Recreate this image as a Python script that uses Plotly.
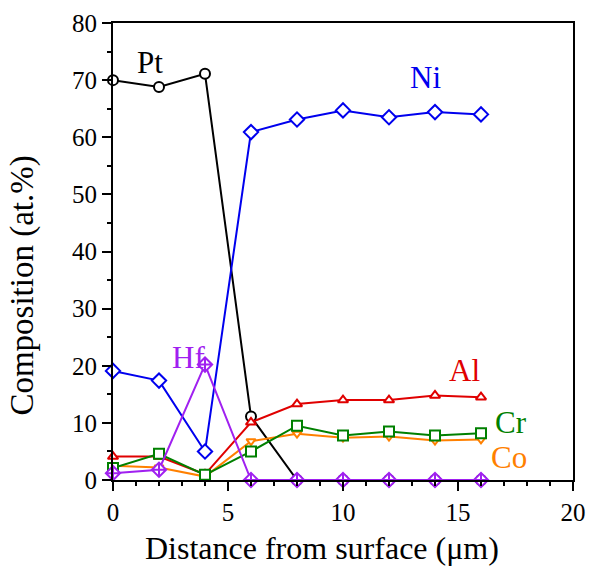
import plotly.graph_objects as go

distance = [0, 2, 4, 6, 8, 10, 12, 14, 16]
pt = [70.0, 68.8, 71.1, 11.1, 0, 0, 0, 0, 0]
ni = [19.1, 17.4, 5.0, 60.9, 63.1, 64.7, 63.5, 64.4, 64.0]
al = [4.1, 4.1, 1.0, 10.1, 13.3, 14.0, 14.0, 14.8, 14.5]
co = [2.5, 2.2, 0.6, 6.8, 8.1, 7.4, 7.6, 6.9, 7.1]
cr = [2.1, 4.6, 0.9, 5.0, 9.5, 7.8, 8.5, 7.8, 8.2]
hf = [1.2, 1.8, 20.2, 0, 0, 0, 0, 0, 0]

series = [
    ("Pt", pt, "black", "circle", 10),
    ("Ni", ni, "#0000EE", "diamond", 11),
    ("Co", co, "#FF8000", "triangle-down", 8),
    ("Al", al, "#E00000", "triangle-up", 9),
    ("Cr", cr, "#008000", "square", 10),
    ("Hf", hf, "#A020F0", "diamond-cross", 11),
]

labels = [
    ("Pt", 1.6, 73.0, "black"),
    ("Ni", 13.6, 70.4, "#0000EE"),
    ("Hf", 3.3, 21.5, "#A020F0"),
    ("Al", 15.3, 19.2, "#E00000"),
    ("Cr", 17.3, 10.0, "#008000"),
    ("Co", 17.2, 3.9, "#FF8000"),
]

X_TITLE = "Distance from surface (μm)"
Y_TITLE = "Composition (at.%)"

FONT = "Liberation Serif, Times New Roman, DejaVu Serif, serif"

fig = go.Figure()
for name, vals, color, sym, size in series:
    fig.add_trace(go.Scatter(
        x=distance, y=vals, mode="lines+markers", name=name,
        line=dict(color=color, width=2),
        marker=dict(symbol=sym, size=size, color="white",
                    line=dict(color=color, width=2)),
        cliponaxis=False,
    ))

for text, x, y, color in labels:
    fig.add_annotation(x=x, y=y, text=text, showarrow=False,
                       font=dict(family=FONT, size=31, color=color))

# axis titles (placed as paper-anchored text to match the original offsets)
fig.add_annotation(x=0.455, y=-0.149, xref="paper", yref="paper",
                   text=X_TITLE, showarrow=False, xanchor="center", yanchor="middle",
                   font=dict(family=FONT, size=32, color="black"))
fig.add_annotation(x=-0.196, y=0.425, xref="paper", yref="paper",
                   text=Y_TITLE, showarrow=False, textangle=-90,
                   xanchor="center", yanchor="middle",
                   font=dict(family=FONT, size=33, color="black"))

fig.update_layout(
    width=590, height=573,
    margin=dict(l=113, r=17, t=23, b=93, autoexpand=False),
    paper_bgcolor="white", plot_bgcolor="white",
    showlegend=False,
    font=dict(family=FONT, size=25, color="black"),
)
fig.update_xaxes(
    range=[0, 20], tickvals=[0, 5, 10, 15, 20],
    showgrid=False, zeroline=False, automargin=False,
    showline=True, linecolor="black", linewidth=2, mirror=True,
    ticks="outside", ticklen=9, tickwidth=2, tickcolor="black",
    minor=dict(dtick=1, ticks="outside", ticklen=4, tickwidth=2, tickcolor="black"),
    tickfont=dict(family=FONT, size=25),
)
fig.update_yaxes(
    range=[0, 80], tickvals=[0, 10, 20, 30, 40, 50, 60, 70, 80],
    showgrid=False, zeroline=False, automargin=False,
    showline=True, linecolor="black", linewidth=2, mirror=True,
    ticks="outside", ticklen=9, tickwidth=2, tickcolor="black",
    minor=dict(dtick=5, ticks="outside", ticklen=4, tickwidth=2, tickcolor="black"),
    tickfont=dict(family=FONT, size=25),
)

fig.write_html("out.html")
